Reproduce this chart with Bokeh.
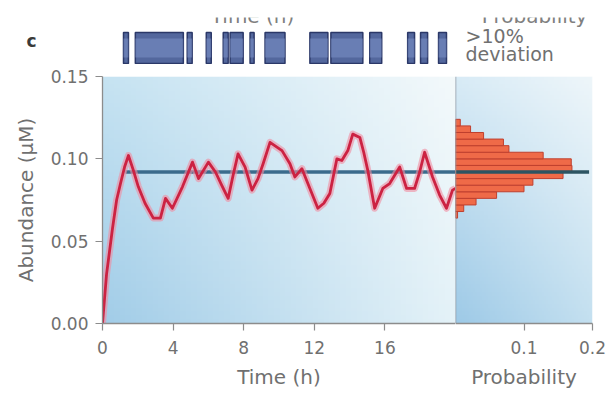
import numpy as np
from bokeh.plotting import figure
from bokeh.models import Range1d, FixedTicker, NumeralTickFormatter
from bokeh.layouts import row, column
from bokeh.embed import file_html
from bokeh.resources import INLINE
from bokeh.core.properties import value

# ---------------- data ----------------
time_h = [0.0, 0.23, 0.57, 0.80, 1.02, 1.25, 1.47, 1.75, 2.03, 2.41,
          2.88, 3.28, 3.57, 3.96, 4.53, 5.10, 5.44, 6.00, 6.40, 6.75,
          7.12, 7.40, 7.68, 8.08, 8.47, 8.81, 9.10, 9.49, 10.17, 10.62,
          10.90, 11.30, 11.75, 12.20, 12.54, 12.88, 13.28, 13.56, 13.90, 14.18,
          14.58, 14.80, 15.03, 15.42, 15.88, 16.27, 16.84, 17.23, 17.68, 17.97,
          18.25, 18.70, 19.10, 19.49, 19.83, 20.0]
abundance = [0.000, 0.030, 0.058, 0.075, 0.085, 0.095, 0.102, 0.093, 0.083, 0.073,
             0.064, 0.064, 0.076, 0.070, 0.083, 0.098, 0.088, 0.098, 0.092, 0.084,
             0.076, 0.090, 0.103, 0.095, 0.081, 0.088, 0.097, 0.110, 0.105, 0.097,
             0.089, 0.094, 0.082, 0.070, 0.073, 0.079, 0.100, 0.099, 0.105, 0.115,
             0.113, 0.104, 0.093, 0.070, 0.082, 0.085, 0.095, 0.082, 0.082, 0.092,
             0.104, 0.089, 0.078, 0.070, 0.081, 0.082]

mean_abundance = 0.092
mean_start_h = 1.3
mean_hist_end = 0.195

# periods with >10% deviation (hours)
dev_start = [1.19, 1.86, 4.80, 5.88, 6.84, 7.23, 8.36, 9.21, 11.75, 12.94, 15.14, 17.29, 18.02, 19.04]
dev_end   = [1.47, 4.58, 5.08, 6.16, 7.12, 7.97, 8.59, 10.34, 12.77, 14.75, 15.82, 17.68, 18.42, 19.49]

# histogram of abundance
hist_center = [0.066, 0.070, 0.074, 0.078, 0.082, 0.086, 0.090, 0.094,
               0.098, 0.102, 0.106, 0.110, 0.114, 0.118, 0.122]
hist_prob = [0.003, 0.012, 0.030, 0.060, 0.100, 0.113, 0.157, 0.170,
             0.169, 0.128, 0.078, 0.070, 0.041, 0.022, 0.007]
bin_height = 0.004

time_ticks = [0, 4, 8, 12, 16]
prob_ticks = [0.1, 0.2]
abund_ticks = [0.0, 0.05, 0.10, 0.15]
panel_label = "c"
strip_label = [">10%", "deviation"]
cut_titles = ["Time (h)", "Probability"]

T_MAX = 20.0
P_MAX = 0.2
Y_MAX = 0.15

# ---------------- layout / style constants ----------------
TOTAL_W = 606
MAIN_LEFT = 102
MAIN_FRAME_W = 353
HIST_FRAME_W = 137
HIST_RIGHT = TOTAL_W - MAIN_LEFT - MAIN_FRAME_W - HIST_FRAME_W
TOP_H = 64
TOP_CLIP = 17
BOT_TOP = 12
BOT_BOTTOM = 71
BOT_H = BOT_TOP + 247 + BOT_BOTTOM
PX_PER_H = MAIN_FRAME_W / T_MAX

FONT = "DejaVu Sans"
TXT = "#707070"
AX = "#8c8c8c"


def gradient(tl, tr, bl, br, nx=64, ny=64):
    u = np.linspace(0, 1, nx)[None, :]
    v = np.linspace(0, 1, ny)[:, None]
    out = np.empty((ny, nx), dtype=np.uint32)
    view = out.view(dtype=np.uint8).reshape((ny, nx, 4))
    for c in range(3):
        top = tl[c] * (1 - u) + tr[c] * u
        bot = bl[c] * (1 - u) + br[c] * u
        view[:, :, c] = np.clip(bot * (1 - v) + top * v, 0, 255).astype(np.uint8)
    view[:, :, 3] = 255
    return out


def style_axis(ax, size="17px"):
    ax.axis_line_color = AX
    ax.axis_line_width = 1.3
    ax.major_tick_line_color = AX
    ax.major_tick_line_width = 1.2
    ax.minor_tick_line_color = None
    ax.major_tick_in = 0
    ax.major_tick_out = 7
    ax.major_label_text_font = FONT
    ax.major_label_text_font_size = size
    ax.major_label_text_color = TXT
    ax.axis_label_text_font = FONT
    ax.axis_label_text_font_size = "20px"
    ax.axis_label_text_font_style = "normal"
    ax.axis_label_text_color = TXT


def clean(fig):
    fig.background_fill_color = "white"
    fig.border_fill_color = "white"
    fig.outline_line_color = None
    fig.grid.visible = False


# ---------------- top strip (deviation periods) ----------------
# y units of the strip figure: pixels up from its bottom edge
top = figure(width=TOTAL_W, height=TOP_H,
             x_range=Range1d(-MAIN_LEFT / PX_PER_H, (TOTAL_W - MAIN_LEFT) / PX_PER_H),
             y_range=Range1d(0, TOP_H - TOP_CLIP),
             output_backend="svg", toolbar_location=None,
             x_axis_location=None, y_axis_location=None,
             min_border_left=0, min_border_right=0, min_border_top=TOP_CLIP, min_border_bottom=0)
clean(top)
top.quad(left=dev_start, right=dev_end, bottom=1, top=32,
         fill_color="#53679d", line_color="#2b3868", line_width=1.5)
top.quad(left=dev_start, right=dev_end, bottom=7, top=26,
         fill_color="#8096cb", fill_alpha=0.5, line_color=None)
top.text(x=[-4.02], y=[24], text=[panel_label], text_font=value(FONT), text_font_size="17px",
         text_font_style="bold", text_color="#3a3a3a", text_align="center", text_baseline="middle")
top.text(x=[20.57, 20.57], y=[29, 11], text=strip_label, text_font=value(FONT),
         text_font_size="19px", text_color=TXT, text_align="left", text_baseline="middle")
# headings of the panel above, cut off by the top edge of this panel
top.text(x=[8.5, 24.48], y=[37, 37], text=cut_titles, text_font=value(FONT), text_font_size="20px",
         text_color="#808080", text_align="center", text_baseline="bottom")

# ---------------- main panel ----------------
y_range = Range1d(0, Y_MAX)
p = figure(width=MAIN_LEFT + MAIN_FRAME_W, height=BOT_H, x_range=Range1d(0, T_MAX), y_range=y_range,
           output_backend="svg", toolbar_location=None,
           min_border_left=MAIN_LEFT, min_border_right=0, min_border_top=BOT_TOP, min_border_bottom=BOT_BOTTOM)
clean(p)
p.image_rgba(image=[gradient((198, 227, 242), (243, 249, 251), (162, 205, 232), (228, 242, 248))],
             x=0, y=0, dw=T_MAX, dh=Y_MAX)

p.segment(x0=[mean_start_h], y0=[mean_abundance], x1=[T_MAX], y1=[mean_abundance],
          line_color="#3b6b8c", line_width=3.5)
p.line(time_h, abundance, line_color="#f08ca0", line_alpha=0.6, line_width=7, line_join="round")
p.line(time_h, abundance, line_color="#cc2242", line_width=2.8, line_join="round")

p.xaxis.ticker = FixedTicker(ticks=time_ticks)
p.xaxis.axis_label = "Time (h)"
p.yaxis.ticker = FixedTicker(ticks=abund_ticks)
p.yaxis.formatter = NumeralTickFormatter(format="0.00")
p.yaxis.axis_label = "Abundance (μM)"
style_axis(p.xaxis[0])
style_axis(p.yaxis[0])
p.xaxis.major_label_standoff = 10
p.xaxis.axis_label_standoff = 8
p.yaxis.major_label_standoff = 7
p.yaxis.axis_label_standoff = 10

# ---------------- histogram panel ----------------
h = figure(width=HIST_FRAME_W + HIST_RIGHT, height=BOT_H, x_range=Range1d(0, P_MAX), y_range=y_range,
           output_backend="svg", toolbar_location=None, y_axis_location=None,
           min_border_left=0, min_border_right=HIST_RIGHT, min_border_top=BOT_TOP, min_border_bottom=BOT_BOTTOM)
clean(h)
h.image_rgba(image=[gradient((216, 235, 246), (238, 246, 250), (158, 202, 231), (196, 224, 240))],
             x=0, y=0, dw=P_MAX, dh=Y_MAX)
h.hbar(y=hist_center, height=bin_height, left=0, right=hist_prob,
       fill_color="#ef6a48", line_color="#bf3f2e", line_width=1)
h.segment(x0=[0], y0=[mean_abundance], x1=[mean_hist_end], y1=[mean_abundance],
          line_color="#2d5462", line_width=3.5)
h.segment(x0=[0], y0=[0], x1=[0], y1=[Y_MAX], line_color="#8a98a4", line_width=1.5)

h.xaxis.ticker = FixedTicker(ticks=prob_ticks)
h.xaxis.axis_label = "Probability"
style_axis(h.xaxis[0])
h.xaxis.major_label_standoff = 10
h.xaxis.axis_label_standoff = 8

layout = column(top, row(p, h))
open("out.html", "w").write(file_html(layout, INLINE))
